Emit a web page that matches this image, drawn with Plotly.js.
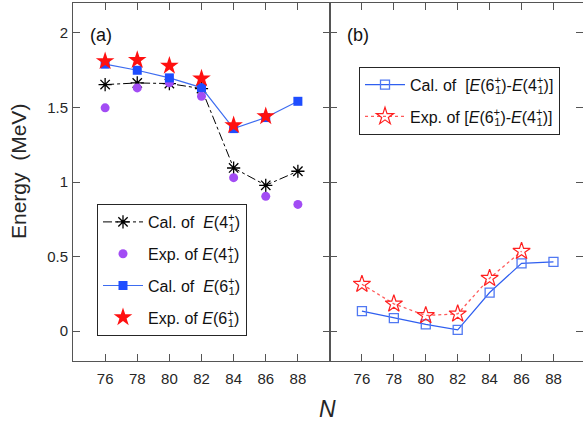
<!DOCTYPE html>
<html><head><meta charset="utf-8">
<script src="https://cdn.plot.ly/plotly-3.0.1.min.js"></script>
<style>body{margin:0;padding:0;background:#fff}#chart{width:583px;height:425px}</style>
</head><body><div id="chart"></div>
<script>
// Data
const N = [76, 78, 80, 82, 84, 86, 88];
const N_exp = [76, 78, 80, 82, 84, 86];
const calE4 = [1.653, 1.664, 1.660, 1.626, 1.094, 0.978, 1.072];
const expE4 = [1.497, 1.631, 1.665, 1.575, 1.029, 0.904, 0.850];
const calE6 = [1.790, 1.749, 1.698, 1.633, 1.358, 1.432, 1.541];
const expE6 = [1.810, 1.817, 1.779, 1.694, 1.380, 1.441];
const calDiff = [0.134, 0.087, 0.045, 0.009, 0.259, 0.455, 0.464];
const expDiff = [0.315, 0.183, 0.105, 0.116, 0.355, 0.536];
const xTicks = [76, 78, 80, 82, 84, 86, 88];
const yTicks = [0, 0.5, 1, 1.5, 2];
const yTickText = ['0', '0.5', '1', '1.5', '2'];

const st = (s) => s + '<sup style="letter-spacing:-6px">+</sup><sub>1</sub>';
const nb = '\u00A0';
const FONT = 'Liberation Sans, Arial, sans-serif';

const traces = [
  {x: N, y: calE4, mode: 'lines+markers', name: 'Cal. of' + nb + nb + '<i>E</i>(' + st('4') + ')',
   line: {color: '#000', width: 1, dash: 'dashdot'},
   marker: {symbol: 'asterisk-open', size: 11, line: {color: '#000', width: 1.3}},
   legendgroup: 'g1', xaxis: 'x', yaxis: 'y', legend: 'legend'},
  {x: N, y: expE4, mode: 'markers', name: 'Exp. of ' + '<i>E</i>(' + st('4') + ')',
   marker: {symbol: 'circle', size: 9, color: '#a24cf4'},
   legendgroup: 'g2', xaxis: 'x', yaxis: 'y', legend: 'legend'},
  {x: N, y: calE6, mode: 'lines+markers', name: 'Cal. of' + nb + nb + '<i>E</i>(' + st('6') + ')',
   line: {color: '#3d6cf0', width: 1.2},
   marker: {symbol: 'square', size: 9, color: '#1e4dff'},
   legendgroup: 'g3', xaxis: 'x', yaxis: 'y', legend: 'legend'},
  {x: N_exp, y: expE6, mode: 'markers', name: 'Exp. of ' + '<i>E</i>(' + st('6') + ')',
   marker: {symbol: 'star', size: 14, color: '#ff1010'},
   legendgroup: 'g4', xaxis: 'x', yaxis: 'y', legend: 'legend'},
  {x: N, y: calDiff, mode: 'lines+markers',
   name: 'Cal. of' + nb + nb + '[<i>E</i>(' + st('6') + ')-<i>E</i>(' + st('4') + ')]',
   line: {color: '#2f5ff0', width: 1.2},
   marker: {symbol: 'square-open', size: 9, color: '#5078f2', line: {width: 1.3}},
   legendgroup: 'h1', xaxis: 'x2', yaxis: 'y2', legend: 'legend2'},
  {x: N_exp, y: expDiff, mode: 'lines+markers',
   name: 'Exp. of [<i>E</i>(' + st('6') + ')-<i>E</i>(' + st('4') + ')]',
   line: {color: '#ff5a5a', width: 1.3, dash: 'dot'},
   marker: {symbol: 'star-open', size: 13, color: '#ff2020', line: {width: 1.2}},
   legendgroup: 'h2', xaxis: 'x2', yaxis: 'y2', legend: 'legend2'}
];

const axisCommon = {
  showline: true, linecolor: '#555', linewidth: 1, mirror: 'ticks',
  ticks: 'inside', ticklen: 7, tickwidth: 1, tickcolor: '#555',
  showgrid: false, zeroline: false,
  tickfont: {family: FONT, size: 15, color: '#262626'}
};

const px = (p) => (p - 73) / 510;
const py = (p) => (361 - p) / 358;

const layout = {
  width: 583, height: 425,
  margin: {l: 73, r: 0, t: 3, b: 64},
  paper_bgcolor: '#fff', plot_bgcolor: '#fff',
  showlegend: true,
  xaxis: Object.assign({}, axisCommon, {domain: [0, 257/510], range: [74, 90], tickvals: xTicks, anchor: 'y', ticklabelstandoff: 4}),
  yaxis: Object.assign({}, axisCommon, {range: [-0.2, 2.2], tickvals: yTicks, ticktext: yTickText, anchor: 'x', ticklabelstandoff: 1}),
  xaxis2: Object.assign({}, axisCommon, {domain: [257/510, 1], range: [74, 89.85], tickvals: xTicks, anchor: 'y2', ticklabelstandoff: 4}),
  yaxis2: Object.assign({}, axisCommon, {range: [-0.2, 2.2], tickvals: yTicks, showticklabels: false, anchor: 'x2'}),
  legend: {x: px(97), y: py(204), xanchor: 'left', yanchor: 'top',
    bordercolor: '#262626', borderwidth: 1, bgcolor: '#fff', tracegroupgap: 8, itemwidth: 40,
    traceorder: 'grouped',
    font: {family: FONT, size: 16, color: '#111'}},
  legend2: {x: px(359), y: py(66.7), xanchor: 'left', yanchor: 'top',
    bordercolor: '#262626', borderwidth: 1, bgcolor: '#fff', tracegroupgap: 8, itemwidth: 40,
    traceorder: 'grouped',
    font: {family: FONT, size: 16, color: '#111'}},
  annotations: [
    {text: 'Energy' + nb + nb + '(MeV)', xref: 'paper', yref: 'paper', x: px(18), y: py(172),
     xanchor: 'center', yanchor: 'middle',
     showarrow: false, textangle: -90, font: {family: FONT, size: 21, color: '#262626'}},
    {text: '<i>N</i>', xref: 'paper', yref: 'paper', x: px(327), y: py(409),
     xanchor: 'center', yanchor: 'middle',
     showarrow: false, font: {family: FONT, size: 23, color: '#262626'}},
    {text: '(a)', xref: 'paper', yref: 'paper', x: px(101), y: py(35),
     xanchor: 'center', yanchor: 'middle',
     showarrow: false, font: {family: FONT, size: 18, color: '#111'}},
    {text: '(b)', xref: 'paper', yref: 'paper', x: px(358), y: py(35),
     xanchor: 'center', yanchor: 'middle',
     showarrow: false, font: {family: FONT, size: 18, color: '#111'}}
  ]
};

Plotly.newPlot('chart', traces, layout, {displayModeBar: false, staticPlot: true});
</script>
</body></html>
